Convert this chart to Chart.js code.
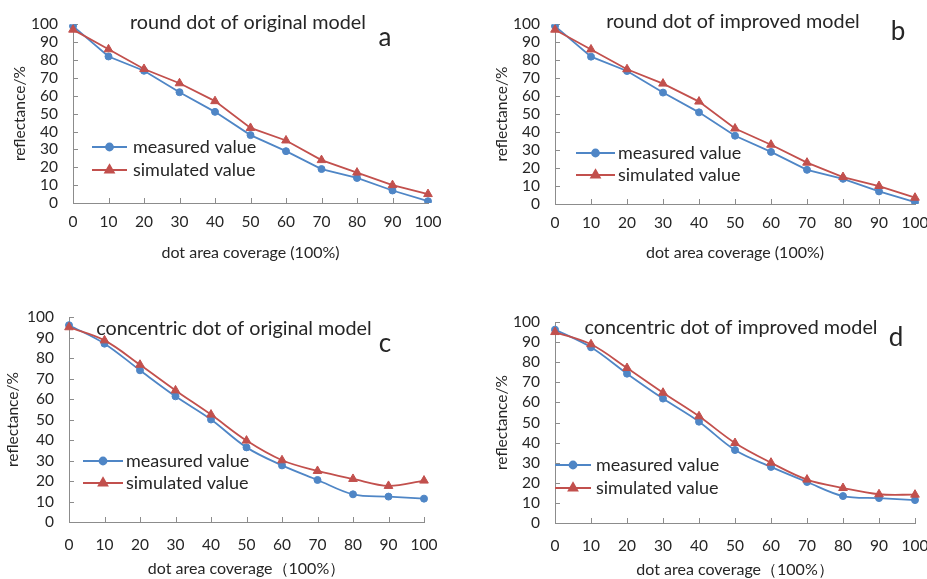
<!DOCTYPE html>
<html><head><meta charset="utf-8">
<script src="https://cdn.jsdelivr.net/npm/chart.js@4/dist/chart.umd.min.js"></script>
<style>
html,body{margin:0;padding:0;background:#fff}
body{width:927px;height:579px;position:relative;overflow:hidden}
canvas{position:absolute;display:block}
</style></head><body>
<canvas id="ca"></canvas><canvas id="cb"></canvas><canvas id="cc"></canvas><canvas id="cd"></canvas>
<script>
// ---------- data ----------
const coverage = ['0','10','20','30','40','50','60','70','80','90','100'];
const yTicks = [0,10,20,30,40,50,60,70,80,90,100];

const measuredA  = [99, 82, 74, 62, 51, 38, 29, 19, 14, 7, 1];
const simulatedA = [97, 86, 75, 67, 57, 42, 35, 24, 17, 10, 5];

const measuredB  = [99, 82, 74, 62, 51, 38, 29, 19, 14, 7, 1];
const simulatedB = [97, 86, 75, 67, 57, 42, 33, 23, 15, 10, 3.5];

const measuredC  = [96, 87, 74, 61.3, 50, 36.4, 27.6, 20.5, 13.5, 12.4, 11.4];
const simulatedC = [95, 88.6, 76.7, 64.2, 52.4, 39.7, 30.1, 24.9, 21, 17.6, 20.2];

const measuredD  = [96.2, 87.4, 74.3, 61.9, 50.4, 36.3, 27.9, 20.4, 13.4, 12.4, 11.4];
const simulatedD = [95, 88.9, 77.1, 64.8, 53.1, 39.8, 30, 21.6, 17.4, 14.3, 14.1];

const seriesNames = ['measured value', 'simulated value'];
const panelTitles = ['round dot of original model', 'round dot of improved model',
                     'concentric dot of original model', 'concentric dot of improved model'];
const panelLetters = ['a', 'b', 'c', 'd'];
const xTitles = ['dot area coverage (100%)', 'dot area coverage (100%)',
                 'dot area coverage\uFF08100%\uFF09', 'dot area coverage\uFF08100%\uFF09'];
const yTitle = 'reflectance/%';

// ---------- style / layout ----------
const FONT = 'Lato, "Liberation Sans", sans-serif';
const BLUE = '#4F86C6', RED = '#C2504D', AXIS = '#8c8c8c', TXT = '#262626';

const panels = [
  {id:'ca', m:measuredA, s:simulatedA, smooth:false,
   box:{x:0,y:0,w:463,h:290}, area:{l:73,r:428,t:14,b:203},
   xtickPad:10, xtitlePad:28, ytickPad:15, ytitlePad:11,
   title:{x:248,y:23}, letter:{x:385,y:38}, leg:{x1:92,x2:127,tx:133,y1:147,y2:170}},
  {id:'cb', m:measuredB, s:simulatedB, smooth:false,
   box:{x:463,y:0,w:490,h:290}, area:{l:92,r:452,t:14,b:204},
   xtickPad:10, xtitlePad:28, ytickPad:15, ytitlePad:30,
   title:{x:270,y:22}, letter:{x:435,y:32}, leg:{x1:113,x2:152,tx:155,y1:153,y2:175}},
  {id:'cc', m:measuredC, s:simulatedC, smooth:true,
   box:{x:0,y:290,w:463,h:289}, area:{l:69,r:424,t:27,b:232},
   xtickPad:14, xtitlePad:1, ytickPad:15, ytitlePad:4,
   title:{x:234,y:39}, letter:{x:385,y:54}, leg:{x1:83,x2:123,tx:126,y1:171,y2:193}},
  {id:'cd', m:measuredD, s:simulatedD, smooth:true,
   box:{x:463,y:290,w:490,h:289}, area:{l:92,r:452,t:32,b:233},
   xtickPad:14, xtitlePad:0, ytickPad:15, ytitlePad:30,
   title:{x:268,y:38}, letter:{x:433,y:48}, leg:{x1:92,x2:128,tx:133,y1:175,y2:198}},
];

const decor = {
  id:'decor',
  beforeDatasetsDraw(chart, args, o){
    const ctx = chart.ctx, a = chart.chartArea;
    const xs = chart.scales.x, ys = chart.scales.y;
    ctx.save();
    ctx.strokeStyle = AXIS; ctx.lineWidth = 1;
    ctx.beginPath();
    xs.ticks.forEach((t,i)=>{ if(i===0) return; const px = Math.round(xs.getPixelForTick(i))+0.5;
      ctx.moveTo(px, a.bottom); ctx.lineTo(px, a.bottom-5); });
    ys.ticks.forEach((t,i)=>{ if(t.value===0) return; const py = Math.round(ys.getPixelForValue(t.value))+0.5;
      ctx.moveTo(a.left, py); ctx.lineTo(a.left+5, py); });
    ctx.stroke();
    ctx.restore();
  },
  afterDraw(chart, args, o){
    const p = o.p, ctx = chart.ctx;
    ctx.save();
    ctx.fillStyle = TXT; ctx.textBaseline = 'middle';
    ctx.textAlign = 'center';
    ctx.font = '19.8px ' + FONT;
    ctx.fillText(o.title, p.title.x, p.title.y);
    ctx.font = '26px ' + FONT;
    ctx.fillText(o.letter, p.letter.x, p.letter.y);
    const rows = [[p.leg.y1, BLUE, 'circle', 3.5, seriesNames[0]], [p.leg.y2, RED, 'triangle', 5, seriesNames[1]]];
    rows.forEach(([y,col,ps,r,txt])=>{
      ctx.strokeStyle = col; ctx.lineWidth = 1.8;
      ctx.beginPath(); ctx.moveTo(p.leg.x1, y); ctx.lineTo(p.leg.x2, y); ctx.stroke();
      ctx.fillStyle = col;
      Chart.helpers.drawPoint(ctx, {pointStyle:ps, radius:r, rotation:0, borderWidth:1}, (p.leg.x1+p.leg.x2)/2, y);
      ctx.fillStyle = TXT; ctx.textAlign = 'left'; ctx.font = '18px ' + FONT;
      ctx.fillText(txt, p.leg.tx, y);
    });
    ctx.restore();
  }
};

panels.forEach((p, k)=>{
  const cv = document.getElementById(p.id);
  cv.width = p.box.w; cv.height = p.box.h;
  cv.style.left = p.box.x + 'px'; cv.style.top = p.box.y + 'px';
  cv.style.width = p.box.w + 'px'; cv.style.height = p.box.h + 'px';
  const tickFont = {family: FONT, size: 15.5};
  new Chart(cv, {
    type: 'line',
    data: {
      labels: coverage,
      datasets: [
        {label: seriesNames[0], data: p.m, borderColor: BLUE, backgroundColor: BLUE, borderWidth: 1.8,
         pointStyle: 'circle', pointRadius: 3.5, pointBorderWidth: 1, tension: p.smooth ? 0.35 : 0, order: 2},
        {label: seriesNames[1], data: p.s, borderColor: RED, backgroundColor: RED, borderWidth: 1.8,
         pointStyle: 'triangle', pointRadius: 5, pointBorderWidth: 1, tension: p.smooth ? 0.35 : 0, order: 1},
      ]
    },
    options: {
      responsive: false, animation: false, devicePixelRatio: 1,
      layout: {padding: {left: 0, right: p.box.w - p.area.r, top: p.area.t, bottom: 0}},
      plugins: {legend: {display: false}, tooltip: {enabled: false},
        decor: {p: p, title: panelTitles[k], letter: panelLetters[k]}},
      scales: {
        x: {type: 'category', offset: false,
          grid: {drawOnChartArea: false, drawTicks: false, color: AXIS},
          border: {color: AXIS, width: 1},
          ticks: {font: tickFont, color: TXT, padding: p.xtickPad, maxRotation: 0, autoSkip: false},
          title: {display: true, text: xTitles[k], font: {family: FONT, size: 16}, color: TXT,
                  padding: {top: 0, bottom: p.xtitlePad}},
          afterFit(s){ s.height = p.box.h - p.area.b; }},
        y: {min: 0, max: 100,
          afterBuildTicks(s){ s.ticks = yTicks.map(v=>({value: v})); },
          grid: {drawOnChartArea: false, drawTicks: false, color: AXIS},
          border: {color: AXIS, width: 1},
          ticks: {font: tickFont, color: TXT, padding: p.ytickPad, autoSkip: false},
          title: {display: true, text: yTitle, font: {family: FONT, size: 15.5}, color: TXT,
                  padding: {top: p.ytitlePad, bottom: 0}},
          afterFit(s){ s.width = p.area.l; }}
      }
    },
    plugins: [decor]
  });
});
</script>
</body></html>
